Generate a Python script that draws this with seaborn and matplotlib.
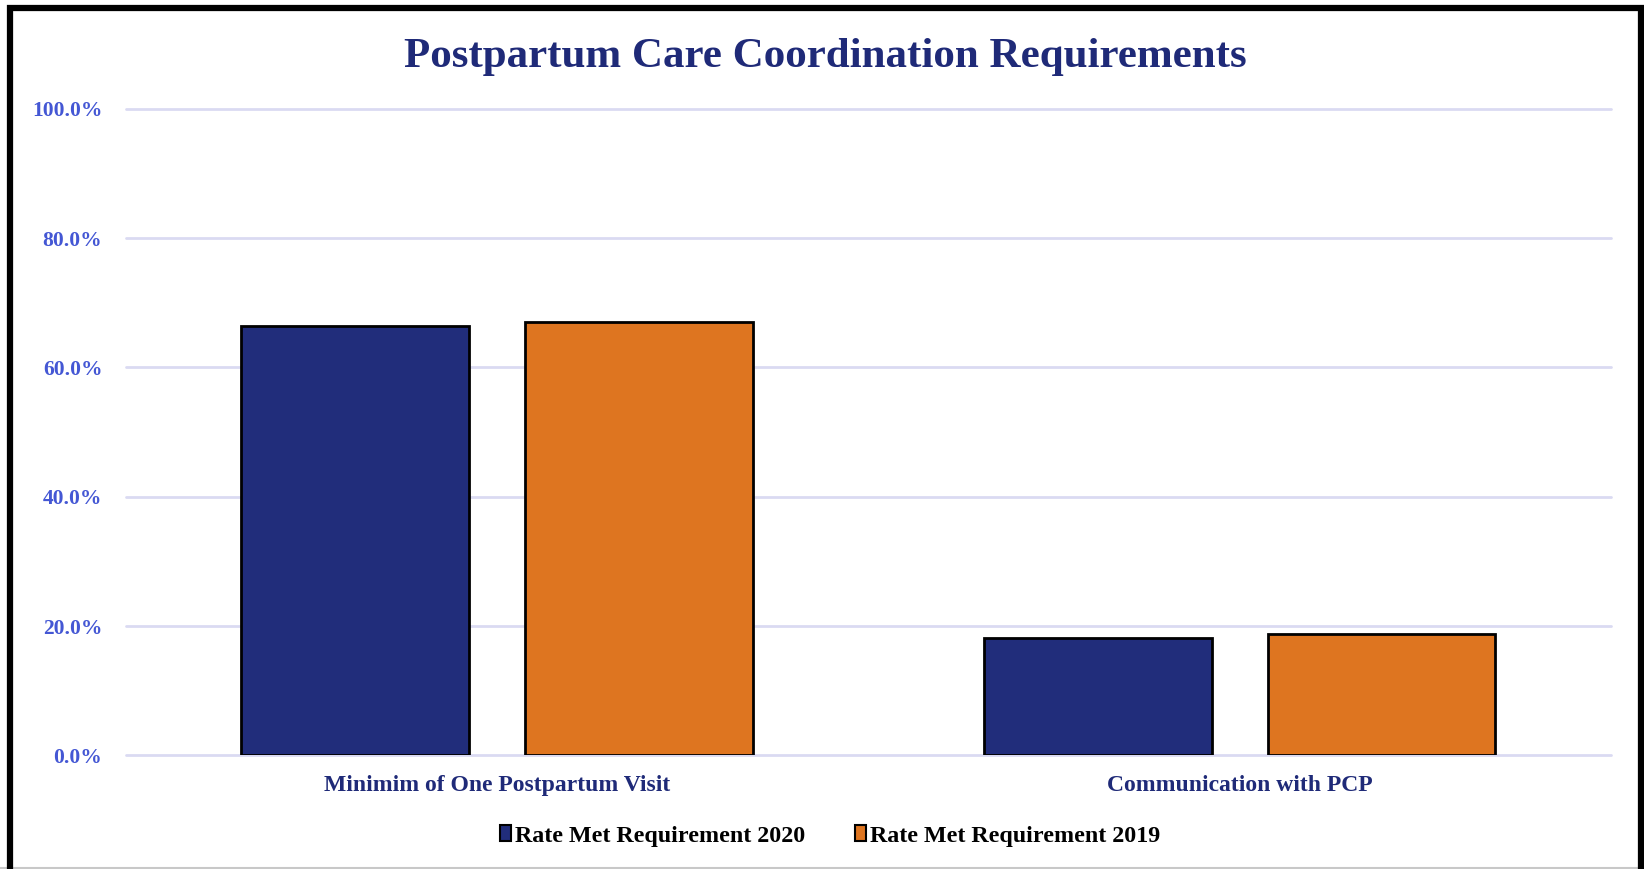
import pandas as pd
import matplotlib
matplotlib.use("Agg")
import matplotlib.pyplot as plt
import seaborn as sns
from matplotlib.ticker import PercentFormatter
from matplotlib.patches import Rectangle, Patch
from matplotlib.lines import Line2D

#chart values
categories = ["Minimim of One Postpartum Visit", "Communication with PCP"]
series_names = ["Rate Met Requirement 2020", "Rate Met Requirement 2019"]
rate_2020 = [0.664, 0.181]
rate_2019 = [0.670, 0.187]
y_ticks = [0.0, 0.2, 0.4, 0.6, 0.8, 1.0]

BLUE = "#212D7B"
ORANGE = "#DE7520"
TITLE_COLOR = "#1F2A78"
TICK_COLOR = "#4457D4"
GRID_COLOR = "#DADAF2"

#build the long table for seaborn
df = pd.DataFrame({
    "category": categories * 2,
    "series": [series_names[0]] * 2 + [series_names[1]] * 2,
    "rate": rate_2020 + rate_2019,
})

sns.set_theme(style="white")
plt.rcParams["font.family"] = ["Liberation Serif", "DejaVu Serif"]
plt.rcParams["font.weight"] = "bold"

fig = plt.figure(figsize=(16.44, 8.69), dpi=100)
ax = fig.add_axes([0.0766, 0.1308, 0.9033, 0.744])

sns.barplot(data=df, x="category", y="rate", hue="series", order=categories,
            hue_order=series_names, palette=[BLUE, ORANGE], width=0.764, gap=0.197,
            edgecolor="black", linewidth=2, saturation=1, legend=False, ax=ax, zorder=3)

ax.set_ylim(0, 1)
ax.set_xlim(-0.5, 1.5)
ax.set_yticks(y_ticks)
ax.yaxis.set_major_formatter(PercentFormatter(1, decimals=1))
ax.grid(axis="y", color=GRID_COLOR, linewidth=2, zorder=0)
ax.set_axisbelow(True)
#keep the 0% and 100% grid lines full width
for line in ax.get_ygridlines():
    line.set_clip_on(False)
for side in ["top", "right", "left", "bottom"]:
    ax.spines[side].set_visible(False)
ax.tick_params(axis="y", length=0, pad=17, labelsize=15.5, labelcolor=TICK_COLOR)
ax.tick_params(axis="x", length=0, pad=14, labelsize=17, labelcolor=TITLE_COLOR)
for lbl in ax.get_xticklabels() + ax.get_yticklabels():
    lbl.set_fontweight("bold")
ax.set_xlabel("")
ax.set_ylabel("")

fig.text(0.502, 0.934, "Postpartum Care Coordination Requirements", ha="center", va="center",
         fontsize=31, fontweight="bold", color=TITLE_COLOR)

#legend at the bottom
handles = [Patch(facecolor=BLUE, edgecolor="black", linewidth=1.5),
           Patch(facecolor=ORANGE, edgecolor="black", linewidth=1.5)]
fig.legend(handles, series_names, loc="center", bbox_to_anchor=(0.505, 0.038), ncol=2,
           frameon=False, handlelength=0.45, handleheight=0.6, handletextpad=0.15,
           columnspacing=2.1, labelcolor="black", prop={"size": 17.3, "weight": "bold"})

#black frame around the chart, bottom edge cut off
fig.patches.append(Rectangle((10 / 1644, -0.05), 1631 / 1644, 1.05 - 8 / 869,
                             transform=fig.transFigure, fill=False, edgecolor="black",
                             linewidth=4.5, zorder=10))
fig.add_artist(Line2D([0, 1], [1 / 869, 1 / 869], transform=fig.transFigure,
                      color="#C8C8C8", linewidth=1.5))

fig.savefig("out.png", dpi=100)
